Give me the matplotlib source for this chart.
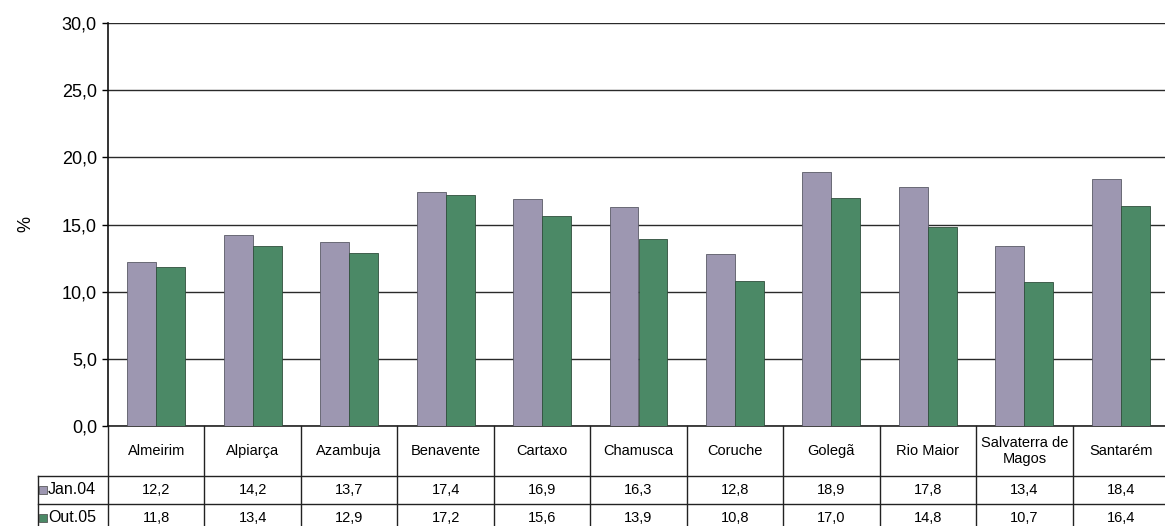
import matplotlib
matplotlib.use("Agg")
import matplotlib.pyplot as plt
import matplotlib.transforms as mtransforms
import numpy as np

categories = ["Almeirim", "Alpiarça", "Azambuja", "Benavente", "Cartaxo", "Chamusca",
              "Coruche", "Golegã", "Rio Maior", "Salvaterra de\nMagos", "Santarém"]
series_names = ["Jan.04", "Out.05"]
jan04 = [12.2, 14.2, 13.7, 17.4, 16.9, 16.3, 12.8, 18.9, 17.8, 13.4, 18.4]
out05 = [11.8, 13.4, 12.9, 17.2, 15.6, 13.9, 10.8, 17.0, 14.8, 10.7, 16.4]
yticks = [0, 5, 10, 15, 20, 25, 30]

colors = ["#9d97b1", "#4b8966"]

plt.rcParams['font.family'] = ['Liberation Sans', 'DejaVu Sans']

W, H = 1165, 526
fig = plt.figure(figsize=(W / 100, H / 100), dpi=100)
fig.patch.set_facecolor("white")

ax_left, ax_right, ax_top, ax_bottom = 108, 1169, 23, 426
ax = fig.add_axes([ax_left / W, (H - ax_bottom) / H,
                   (ax_right - ax_left) / W, (ax_bottom - ax_top) / H])

x = np.arange(len(categories))
bw = 0.3
ax.bar(x - bw / 2, jan04, bw, color=colors[0], edgecolor="#5a5a66", linewidth=0.6, zorder=3)
ax.bar(x + bw / 2, out05, bw, color=colors[1], edgecolor="#2f4f3c", linewidth=0.6, zorder=3)

ax.set_xlim(-0.5, len(categories) - 0.5)
ax.set_ylim(0, 30)
ax.set_yticks(yticks)
ax.set_yticklabels([f"{v:.1f}".replace(".", ",") for v in yticks], fontsize=13)
ax.yaxis.grid(True, color="#2a2a2a", linewidth=1.0, zorder=0)
ax.set_axisbelow(True)
ax.set_xticks([])
ax.tick_params(axis="y", direction="out", length=4, width=1, pad=4)
for s in ["top", "right", "bottom"]:
    ax.spines[s].set_visible(False)
ax.spines["left"].set_linewidth(1.2)
ax.spines["left"].set_color("#111111")
ax.set_ylabel("%", fontsize=13, labelpad=20)

# data table below axes
axh = ax_bottom - ax_top
def yfrac(ypix):
    return (ax_bottom - ypix) / axh

trans = mtransforms.blended_transform_factory(ax.transData, ax.transAxes)
y_top = yfrac(426)
y_head = yfrac(476)
y_jan = yfrac(504)
y_out = yfrac(532)
col_w_px = (ax_right - ax_left) / len(categories)
x_lab_left = -0.5 - 70 / col_w_px
x_end = len(categories) - 0.5

lc = "#222222"
lw = 1.0
ax.plot([-0.5, x_end], [y_top, y_top], transform=trans, color=lc, lw=1.2, clip_on=False)
for yy in [y_head, y_jan, y_out]:
    ax.plot([x_lab_left, x_end], [yy, yy], transform=trans, color=lc, lw=lw, clip_on=False)
for k in range(len(categories) + 1):
    xx = -0.5 + k
    ax.plot([xx, xx], [y_top, y_out], transform=trans, color=lc, lw=lw, clip_on=False)
ax.plot([x_lab_left, x_lab_left], [y_head, y_out], transform=trans, color=lc, lw=lw, clip_on=False)

for i, c in enumerate(categories):
    ax.text(i, (y_top + y_head) / 2, c, transform=trans, ha="center", va="center",
            fontsize=10.5, linespacing=1.25)
    ax.text(i, (y_head + y_jan) / 2, f"{jan04[i]:.1f}".replace(".", ","), transform=trans,
            ha="center", va="center", fontsize=10.5)
    ax.text(i, (y_jan + y_out) / 2, f"{out05[i]:.1f}".replace(".", ","), transform=trans,
            ha="center", va="center", fontsize=10.5)

for j, (name, col, yy0, yy1) in enumerate([(series_names[0], colors[0], y_head, y_jan),
                                             (series_names[1], colors[1], y_jan, y_out)]):
    ym = (yy0 + yy1) / 2
    ax.scatter([x_lab_left + 5 / col_w_px], [ym], transform=trans, marker="s", s=26, color=col,
               edgecolor="#444444", linewidth=0.5, clip_on=False, zorder=5)
    ax.text(x_lab_left + 10 / col_w_px, ym, name, transform=trans, ha="left", va="center",
            fontsize=11.5)

fig.savefig("out.png", dpi=100, facecolor="white")
